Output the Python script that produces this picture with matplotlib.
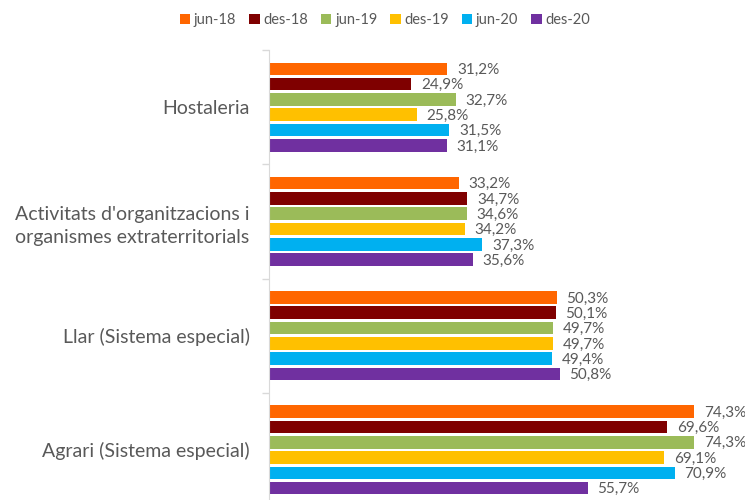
import numpy as np
import matplotlib.pyplot as plt

categories = ["Hostaleria",
              "Activitats d'organitzacions i\norganismes extraterritorials",
              "Llar (Sistema especial)",
              "Agrari (Sistema especial)"]
periods = ["jun-18", "des-18", "jun-19", "des-19", "jun-20", "des-20"]
jun18 = [31.2, 33.2, 50.3, 74.3]
des18 = [24.9, 34.7, 50.1, 69.6]
jun19 = [32.7, 34.6, 49.7, 74.3]
des19 = [25.8, 34.2, 49.7, 69.1]
jun20 = [31.5, 37.3, 49.4, 70.9]
des20 = [31.1, 35.6, 50.8, 55.7]
series = [jun18, des18, jun19, des19, jun20, des20]
colors = ["#ff6600", "#7f0000", "#9bbb59", "#ffc000", "#00b0f0", "#7030a0"]

plt.rcParams['font.family'] = ['Lato', 'DejaVu Sans']
txt = "#595959"

fig = plt.figure(figsize=(7.45, 5), dpi=100)
ax = fig.add_axes([269/745, -0.014, 440/745, 0.914])

y = np.arange(len(categories))
pitch = 0.134
h = 0.11
for j, (vals, c, lab) in enumerate(zip(series, colors, periods)):
    yy = y + (j - 2.5) * pitch
    ax.barh(yy, vals, height=h, color=c, label=lab)
    for yi, v in zip(yy, vals):
        ax.text(v + 1.7, yi + 0.01, f"{v:.1f}%".replace(".", ","),
                va="center", ha="left", fontsize=11, color=txt)

ax.set_xlim(0, 440/5.72)
ax.set_ylim(3.5, -0.5)
ax.set_yticks(np.arange(-0.5, 4.0, 1.0))
ax.set_yticklabels([])
ax.set_yticks(y, minor=True)
ax.set_yticklabels(categories, minor=True, fontsize=14, color=txt,
                   multialignment="center", linespacing=1.45)
ax.tick_params(axis="y", which="major", length=5, color="#d9d9d9", width=1)
ax.tick_params(axis="y", which="minor", length=0, pad=14)
ax.set_xticks([])
for s in ["top", "right", "bottom"]:
    ax.spines[s].set_visible(False)
ax.spines["left"].set_color("#d9d9d9")

leg = fig.legend(loc="center", bbox_to_anchor=(385/745, 1 - 20/500), ncol=6, frameon=False,
                 fontsize=10.5, handlelength=0.7, handleheight=0.7, handletextpad=0.25,
                 columnspacing=0.9)
for t in leg.get_texts():
    t.set_color(txt)

fig.savefig("out.png", dpi=100)
